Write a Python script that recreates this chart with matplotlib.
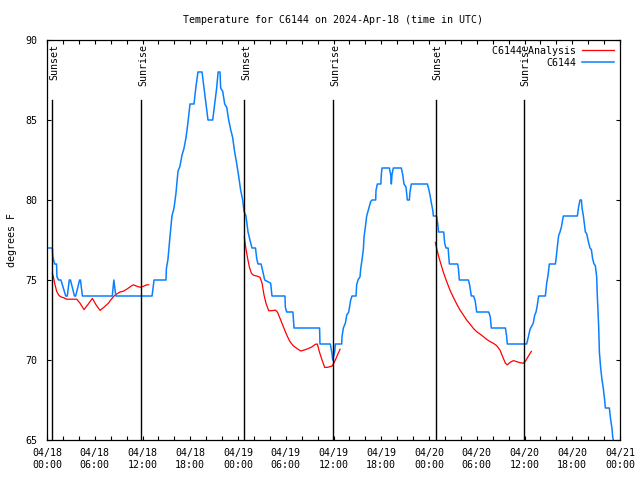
import matplotlib
matplotlib.use("Agg")
import matplotlib.pyplot as plt

# horas desde 04/18 00:00 UTC y temperatura (F)
horas_obs = [0.0, 0.68, 0.72, 0.95, 1.2, 1.25, 1.45, 1.75, 2.35, 2.55, 2.8, 2.95, 3.45, 3.6,
             4.1, 4.2, 4.45, 8.2, 8.4, 8.65, 13.2, 13.45, 14.95, 15.0, 15.2, 15.45, 15.7,
             15.96, 16.2, 16.46, 16.7, 16.96, 17.2, 17.47, 17.7, 17.97, 18.47, 18.72, 18.97,
             19.48, 19.73, 19.98, 20.23, 20.82, 21.07, 21.32, 21.5, 21.74, 21.82, 22.07,
             22.33, 22.58, 22.83, 23.08, 23.33, 23.58, 23.83, 24.08, 24.34, 24.59, 24.75,
             25.0, 25.26, 25.5, 25.76, 26.2, 26.35, 26.51, 26.9, 27.18, 27.35, 28.1, 28.27,
             29.9, 29.95, 30.12, 30.9, 31.04, 34.25, 34.3, 35.6, 35.81, 35.9, 36.15, 36.23,
             37.03, 37.07, 37.24, 37.49, 37.66, 37.91, 38.16, 38.33, 38.83, 38.91, 39.08,
             39.33, 39.42, 39.58, 39.75, 39.84, 40.0, 40.17, 40.34, 40.5, 40.67, 40.84,
             41.3, 41.34, 41.51, 41.95, 42.01, 42.1, 43.02, 43.18, 43.27, 43.35, 43.52,
             44.52, 44.69, 44.86, 45.11, 45.28, 45.53, 45.61, 45.78, 47.79, 47.96, 48.13,
             48.3, 48.46, 48.55, 48.95, 49.1, 49.2, 49.85, 49.97, 50.14, 50.4, 50.56, 51.6,
             51.7, 51.81, 52.95, 53.1, 53.32, 53.6, 53.8, 53.99, 55.5, 55.7, 55.83, 57.6,
             57.75, 57.84, 60.27, 60.44, 60.69, 60.78, 61.1, 61.28, 61.45, 61.6, 61.78,
             62.62, 62.79, 62.96, 63.12, 63.88, 63.96, 64.13, 64.3, 64.46, 64.63, 64.8,
             64.88, 66.64, 66.81, 66.98, 67.15, 67.23, 67.4, 67.57, 67.65, 67.81, 68.07,
             68.23, 68.4, 68.57, 68.74, 68.9, 69.07, 69.15, 69.24, 69.32, 69.41, 69.57,
             69.74, 69.91, 70.07, 70.16, 70.66, 70.83, 71.0, 71.08, 71.16]
temp_obs = [77, 77, 76.5, 76, 76, 75.2, 75, 75, 74, 74, 75, 75, 74, 74,
            75, 75, 74, 74, 75, 74, 74, 75, 75, 75.7, 76.3, 77.7, 79,
            79.5, 80.4, 81.8, 82.1, 82.8, 83.2, 83.9, 84.8, 86, 86, 87.1, 88,
            88, 87, 86, 85, 85, 86, 87, 88, 88, 87, 86.8,
            86, 85.8, 85, 84.4, 83.9, 83, 82.3, 81.5, 80.6, 80, 79.3,
            79, 78, 77.5, 77, 77, 76.35, 76, 76, 75.4, 75, 74.8, 74,
            74, 73.3, 73, 73, 72, 72, 71, 71, 70.4, 70, 70.5, 71,
            71, 71.46, 72, 72.3, 72.8, 73, 73.75, 74, 74, 74.7, 75,
            75.2, 75.7, 76.25, 76.9, 77.7, 78.3, 79, 79.3, 79.6, 79.9, 80,
            80, 80.6, 81, 81, 81.6, 82, 82, 81.6, 81, 81.6, 82,
            82, 81.6, 81, 80.8, 80, 80, 80.5, 81, 81, 80.7, 80.3,
            79.8, 79.4, 79, 79, 78.5, 78, 78, 77.3, 77, 77, 76, 76,
            75.7, 75, 75, 74.7, 74, 74, 73.7, 73, 73, 72.7, 72, 72,
            71.5, 71, 71, 71.35, 71.9, 72, 72.3, 72.8, 73, 73.4, 74,
            74, 74.8, 75.3, 76, 76, 76.3, 77.1, 77.8, 78, 78.3, 78.8,
            79, 79, 79.6, 80, 80, 79.5, 79, 78.3, 78, 77.9, 77.3,
            77, 76.9, 76.3, 76, 75.9, 75.2, 74, 73, 72.1, 70.5, 69.5,
            68.75, 68.2, 67.5, 67, 67, 66.25, 65.7, 65.2, 65]

# analisis: tres tramos (noche)
horas_an1 = [0.67, 0.8, 0.96, 1.21, 1.47, 1.72, 2.05, 2.47, 3.73, 4.15, 4.65, 5.19, 5.7,
             6.16, 6.66, 7.16, 7.71, 8.0, 8.42, 8.84, 9.17, 9.59, 10.1, 10.52, 10.85,
             11.35, 11.69, 12.1, 12.52, 12.77]
temp_an1 = [75.4, 75.2, 74.8, 74.3, 74.05, 73.95, 73.9, 73.8, 73.8, 73.55, 73.15, 73.5, 73.85,
            73.45, 73.1, 73.3, 73.55, 73.75, 74.0, 74.15, 74.25, 74.3, 74.45, 74.6, 74.7,
            74.6, 74.55, 74.6, 74.7, 74.7]
horas_an2 = [24.8, 24.92, 25.17, 25.42, 25.68, 25.93, 26.35, 26.77, 27.02, 27.27, 27.52,
             27.86, 28.27, 28.69, 28.95, 29.2, 29.7, 30.12, 30.53, 30.96, 31.38, 31.88,
             32.3, 32.71, 33.22, 33.72, 33.97, 34.22, 34.56, 34.89, 35.23, 35.81, 36.07,
             36.32, 36.57, 36.82]
temp_an2 = [77.67, 77.19, 76.46, 75.83, 75.42, 75.3, 75.25, 75.17, 74.8, 74.06, 73.54,
            73.08, 73.08, 73.12, 73.0, 72.7, 72.08, 71.56, 71.15, 70.88, 70.73, 70.56,
            70.62, 70.69, 70.8, 70.98, 71.0, 70.52, 70.0, 69.54, 69.54, 69.62, 69.83,
            70.1, 70.4, 70.67]
horas_an3 = [48.8, 48.96, 49.22, 49.47, 49.72, 49.97, 50.22, 50.47, 50.72, 51.06, 51.48,
             51.9, 52.32, 52.73, 53.15, 53.57, 53.99, 54.41, 54.83, 55.25, 55.67, 56.09,
             56.5, 56.92, 57.26, 57.6, 57.84, 58.18, 58.6, 59.02, 59.44, 59.86, 60.11,
             60.44, 60.86]
temp_an3 = [77.35, 76.98, 76.46, 76.04, 75.62, 75.25, 74.9, 74.58, 74.27, 73.92, 73.5,
            73.12, 72.81, 72.5, 72.25, 71.98, 71.77, 71.62, 71.46, 71.29, 71.15, 71.04,
            70.9, 70.62, 70.2, 69.8, 69.7, 69.85, 69.96, 69.9, 69.83, 69.8, 69.92,
            70.2, 70.54]

atardecer = [0.67, 24.8, 48.88]
amanecer = [11.85, 35.98, 59.96]

ticks_x = [0, 6, 12, 18, 24, 30, 36, 42, 48, 54, 60, 66, 72]
etiquetas_x = ["04/18\n00:00", "04/18\n06:00", "04/18\n12:00", "04/18\n18:00",
               "04/19\n00:00", "04/19\n06:00", "04/19\n12:00", "04/19\n18:00",
               "04/20\n00:00", "04/20\n06:00", "04/20\n12:00", "04/20\n18:00",
               "04/21\n00:00"]
ticks_y = [65, 70, 75, 80, 85, 90]

plt.rcParams['font.family'] = ['DejaVu Sans Mono']
fs = 7.2

fig = plt.figure(figsize=(6.4, 4.8), dpi=100)
ax = fig.add_axes([47/640, 40/480, 573/640, 400/480])

rojo = "#ff0000"
azul = "#0a80ff"

ax.plot(horas_an1, temp_an1, color=rojo, lw=0.9, label="C6144 Analysis")
ax.plot(horas_an2, temp_an2, color=rojo, lw=0.9)
ax.plot(horas_an3, temp_an3, color=rojo, lw=0.9)
ax.plot(horas_obs, temp_obs, color=azul, lw=1.1, label="C6144")

tope = (86.25 - 65) / 25
for h in atardecer:
    ax.axvline(h, ymax=tope, color="black", lw=1)
    ax.text(h + 0.2, 89.75, "Sunset", rotation=90, ha="center", va="top", fontsize=fs)
for h in amanecer:
    ax.axvline(h, ymax=tope, color="black", lw=1)
    ax.text(h + 0.2, 89.75, "Sunrise", rotation=90, ha="center", va="top", fontsize=fs)

ax.set_xlim(0, 72)
ax.set_ylim(65, 90)
ax.set_xticks(ticks_x)
ax.set_xticklabels(etiquetas_x, fontsize=fs, linespacing=1.25)
ax.set_xticks(range(0, 73, 2), minor=True)
ax.set_yticks(ticks_y)
ax.set_yticklabels([str(v) for v in ticks_y], fontsize=fs)
ax.tick_params(which="both", direction="in", top=True, right=True, length=3, width=0.8)
ax.tick_params(axis="x", pad=6)
ax.tick_params(axis="y", pad=7)
for s in ax.spines.values():
    s.set_linewidth(0.9)

ax.set_ylabel("degrees F", fontsize=fs, labelpad=6)
fig.text(333/640, 1 - 20/480, "Temperature for C6144 on 2024-Apr-18 (time in UTC)",
         ha="center", va="center", fontsize=fs)

ax.legend(loc="upper right", frameon=False, markerfirst=False, fontsize=fs,
          handlelength=3.2, borderaxespad=0.2, labelspacing=0.2, handletextpad=0.6)

fig.savefig("out.png", dpi=100)
